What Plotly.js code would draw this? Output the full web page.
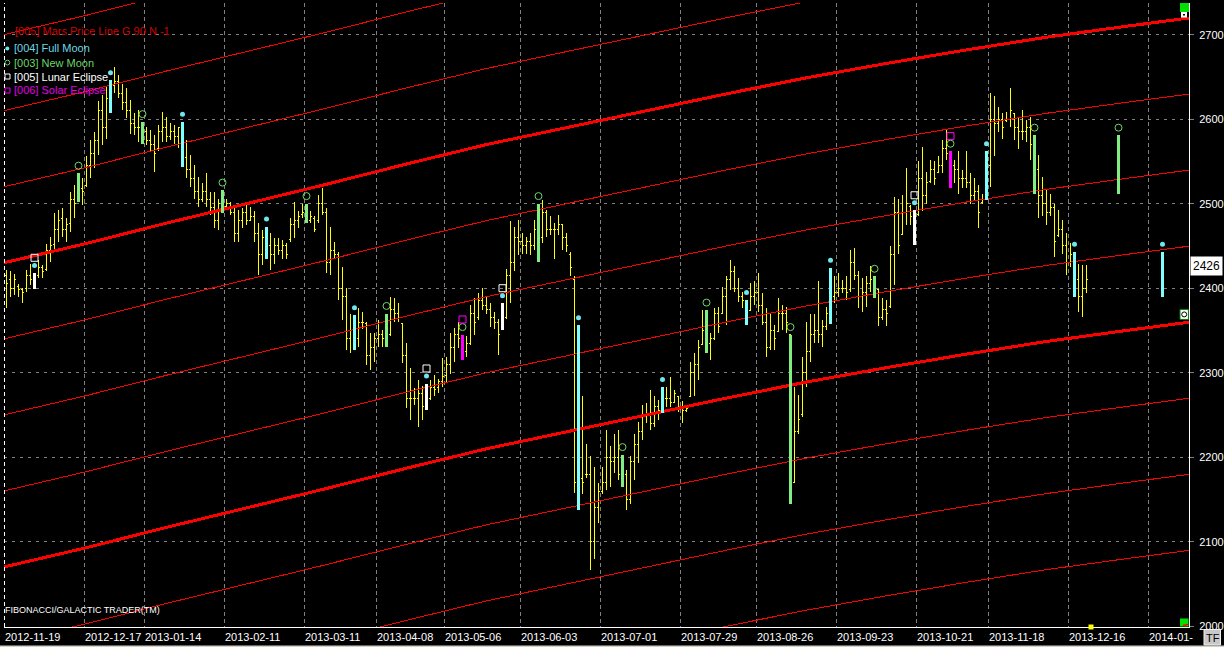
<!DOCTYPE html>
<html><head><meta charset="utf-8">
<script src="https://cdn.plot.ly/plotly-3.0.1.min.js"></script>
<style>html,body{margin:0;padding:0;background:#000;overflow:hidden}#chart{width:1224px;height:647px;}
#chart svg .trace path.js-line, #chart svg .trace.ohlc path, #chart svg g.ohlc path {shape-rendering:crispEdges;}
</style>
</head><body><div id="chart"></div>
<script>
// ---------- DATA ----------
const tickIdx = [0,20,35,55,75,93,110,129,149,169,188,208,228,246,266,286];
const tickLabels = ["2012-11-19","2012-12-17","2013-01-14","2013-02-11","2013-03-11","2013-04-08","2013-05-06","2013-06-03","2013-07-01","2013-07-29","2013-08-26","2013-09-23","2013-10-21","2013-11-18","2013-12-16","2014-01-"];

const openP = [2415,2410,2400,2402,2398,2400,2415,2410,2415,2424,
2422,2445,2452,2470,2482,2470,2476,2505,2505,2518,
2522,2545,2560,2575,2610,2590,2625,2640,2645,2630,
2620,2610,2595,2590,2590,2585,2575,2570,2565,2585,
2590,2580,2585,2580,2590,2555,2540,2530,2515,2505,
2515,2505,2495,2480,2500,2497,2500,2490,2465,2480,
2490,2480,2485,2465,2440,2460,2450,2440,2450,2445,
2450,2458,2475,2480,2487,2490,2480,2482,2480,2500,
2490,2430,2445,2440,2400,2390,2340,2350,2340,2360,
2358,2320,2330,2340,2345,2340,2345,2375,2370,2358,
2320,2270,2270,2270,2275,2262,2270,2282,2282,2290,
2297,2310,2330,2345,2340,2325,2335,2370,2365,2385,
2380,2375,2365,2360,2352,2365,2415,2430,2460,2455,
2450,2455,2450,2470,2460,2490,2470,2470,2470,2475,
2460,2440,2410,2180,2175,2180,2180,2100,2140,2160,
2170,2200,2195,2200,2180,2180,2150,2195,2215,2230,
2250,2250,2240,2260,2255,2270,2270,2265,2272,2260,
2255,2272,2300,2310,2333,2350,2335,2340,2370,2370,
2390,2410,2420,2400,2390,2385,2374,2390,2395,2380,
2360,2330,2350,2349,2370,2370,2345,2170,2230,2250,
2300,2325,2345,2350,2345,2355,2370,2390,2395,2400,
2400,2398,2430,2415,2390,2395,2405,2410,2398,2365,
2375,2378,2440,2490,2463,2490,2497,2485,2487,2530,
2510,2526,2540,2537,2545,2565,2560,2545,2540,2530,
2530,2525,2510,2515,2501,2505,2545,2600,2595,2600,
2598,2600,2607,2590,2585,2585,2590,2570,2540,2510,
2500,2490,2495,2462,2470,2450,2430,2440,2410,2390,
2400];
const highP = [2422,2420,2417,2405,2400,2421,2429,2418,2433,2427,
2452,2461,2489,2493,2495,2483,2514,2522,2536,2530,
2556,2575,2585,2621,2629,2639,2646,2662,2652,2642,
2637,2623,2607,2611,2597,2591,2587,2581,2593,2609,
2603,2595,2593,2591,2597,2575,2558,2546,2532,2524,
2536,2514,2514,2506,2516,2506,2502,2498,2493,2495,
2502,2496,2491,2477,2469,2473,2465,2459,2459,2457,
2453,2483,2502,2491,2500,2500,2491,2485,2510,2518,
2495,2473,2455,2443,2425,2400,2370,2368,2376,2372,
2360,2347,2347,2362,2351,2370,2390,2388,2382,2358,
2335,2305,2282,2291,2284,2287,2291,2297,2293,2317,
2319,2347,2353,2360,2345,2343,2380,2388,2394,2400,
2390,2382,2372,2364,2382,2423,2479,2473,2481,2465,
2461,2465,2481,2500,2504,2493,2485,2477,2487,2475,
2465,2443,2414,2356,2272,2216,2201,2189,2169,2189,
2232,2213,2228,2232,2203,2185,2201,2228,2242,2262,
2264,2280,2272,2268,2283,2283,2295,2280,2272,2266,
2260,2313,2323,2339,2374,2374,2347,2376,2378,2402,
2414,2433,2426,2412,2396,2386,2406,2408,2418,2394,
2376,2370,2357,2388,2380,2378,2345,2283,2274,2319,
2360,2370,2370,2408,2362,2378,2424,2414,2418,2410,
2414,2445,2447,2420,2412,2414,2426,2414,2398,2388,
2386,2450,2508,2506,2510,2542,2498,2492,2550,2567,
2538,2552,2550,2556,2575,2587,2562,2552,2562,2540,
2562,2536,2530,2522,2512,2562,2631,2627,2615,2607,
2609,2637,2607,2603,2611,2599,2603,2581,2558,2532,
2516,2512,2500,2492,2481,2465,2453,2443,2429,2427,
2427];
const lowP = [2377,2390,2392,2390,2382,2396,2404,2399,2412,2412,
2420,2431,2443,2455,2461,2455,2467,2483,2502,2498,
2520,2530,2542,2558,2569,2577,2607,2631,2625,2611,
2601,2583,2581,2573,2571,2569,2562,2538,2562,2573,
2573,2575,2571,2566,2544,2530,2520,2506,2496,2502,
2496,2487,2471,2469,2489,2495,2487,2455,2455,2471,
2475,2479,2455,2416,2427,2435,2422,2429,2439,2435,
2435,2455,2459,2471,2483,2477,2477,2467,2477,2487,
2418,2416,2435,2386,2362,2327,2323,2327,2331,2352,
2309,2303,2313,2331,2331,2331,2343,2360,2360,2311,
2258,2244,2262,2236,2244,2256,2268,2272,2276,2283,
2289,2299,2313,2329,2315,2319,2333,2345,2362,2374,
2370,2354,2352,2321,2351,2364,2382,2420,2439,2441,
2441,2439,2445,2431,2453,2461,2463,2435,2463,2445,
2443,2414,2158,2138,2157,2175,2066,2080,2122,2157,
2161,2165,2181,2173,2165,2138,2145,2173,2193,2220,
2240,2232,2236,2244,2252,2260,2260,2264,2254,2240,
2254,2272,2272,2291,2333,2323,2315,2339,2347,2370,
2357,2398,2396,2384,2376,2357,2374,2380,2372,2357,
2319,2327,2327,2349,2351,2347,2145,2169,2228,2248,
2283,2313,2335,2335,2331,2351,2358,2382,2390,2394,
2386,2396,2410,2376,2372,2378,2396,2388,2355,2362,
2355,2376,2404,2441,2463,2475,2475,2451,2485,2491,
2500,2524,2522,2536,2536,2552,2518,2524,2512,2518,
2518,2500,2504,2471,2500,2504,2520,2556,2585,2577,
2597,2591,2575,2565,2575,2573,2552,2512,2483,2485,
2475,2485,2437,2461,2441,2416,2425,2390,2372,2366,
2394];
const closeP = [2406,2400,2410,2398,2395,2415,2410,2412,2425,2420,
2445,2450,2470,2480,2470,2475,2505,2500,2520,2515,
2545,2560,2575,2610,2590,2625,2640,2645,2630,2620,
2610,2595,2590,2590,2585,2575,2570,2560,2585,2590,
2580,2585,2580,2590,2555,2540,2530,2515,2505,2515,
2505,2495,2480,2500,2495,2500,2490,2465,2480,2490,
2480,2485,2465,2440,2460,2450,2440,2450,2445,2450,
2440,2475,2480,2485,2490,2480,2485,2470,2500,2490,
2430,2445,2440,2400,2390,2340,2350,2340,2360,2360,
2320,2330,2340,2345,2340,2335,2375,2370,2365,2320,
2270,2270,2270,2275,2260,2268,2282,2280,2290,2295,
2310,2330,2345,2340,2325,2335,2370,2360,2385,2380,
2375,2365,2360,2345,2365,2415,2430,2460,2455,2450,
2455,2450,2470,2460,2490,2470,2470,2470,2475,2460,
2450,2425,2170,2175,2170,2180,2100,2140,2160,2170,
2200,2195,2200,2180,2180,2150,2195,2215,2230,2250,
2250,2240,2260,2255,2270,2270,2265,2275,2260,2255,
2258,2300,2310,2330,2350,2335,2340,2370,2355,2390,
2410,2420,2400,2390,2385,2365,2390,2395,2380,2360,
2330,2350,2340,2370,2370,2360,2160,2230,2245,2300,
2325,2345,2350,2345,2355,2370,2390,2395,2400,2400,
2395,2430,2415,2390,2395,2405,2410,2400,2365,2375,
2370,2440,2490,2450,2490,2500,2485,2470,2530,2510,
2525,2540,2530,2545,2565,2560,2545,2540,2530,2530,
2525,2510,2515,2490,2505,2545,2600,2595,2600,2590,
2600,2610,2590,2585,2585,2590,2570,2540,2510,2500,
2490,2495,2455,2470,2450,2430,2440,2410,2390,2400,
2410];

const fullMoonIdx = [26,44,65,87,143,164,185,206,245,267];
const newMoonIdx = [18,34,54,75,95,133,154,175,196,217,257];
const lunarEclipseIdx = [7,105,124,227];
const solarEclipseIdx = [114,236];
// projected moon bars (after the last price bar)
const projIdx = [278, 289];
const projKind = ["new", "full"];
const projHigh = [2581, 2443];
const projLow = [2512, 2390];

// Mars price line (base level)
const marsIdx = [-0.7,20,40,60,80,100,120,140,160,180,200,220,240,260,280,296];
const marsBase = [2070,2093,2117,2140,2163,2187,2210,2230,2250,2270,2289,2306,2322,2337,2350,2360];
const marsStep = 90;
const marsLevels = [-3,-2,-1,0,1,2,3,4,5,6,7];

const lastPrice = 2426;
const sideMarkerPrice = 2369;

// ---------- LAYOUT HELPERS ----------
const FONT = "Liberation Sans, Arial, sans-serif";
const ML = 4, MR = 35, MT = 3, MB = 20, W = 1224, H = 647;
const PW = W - ML - MR, PH = H - MT - MB;
const px = x => (x - ML) / PW;
const py = y => (H - MB - y) / PH;
const X0 = -0.625, X1 = 295.625;

const barIdx = highP.map((_, i) => i);

function segs(idxs, hiArr, loArr) {
  const x = [], y = [];
  idxs.forEach((i, k) => { x.push(i, i, null); y.push(loArr[k], hiArr[k], null); });
  return {x, y};
}
function fromData(idxs) {
  return { hi: idxs.map(i => highP[i]), lo: idxs.map(i => lowP[i]) };
}

const traces = [];
// price bars
traces.push({
  type: 'ohlc', x: barIdx, open: openP, high: highP, low: lowP, close: closeP,
  increasing: {line: {color: '#ffff00', width: 1}},
  decreasing: {line: {color: '#ffff00', width: 1}},
  line: {width: 1}, tickwidth: 0.4, hoverinfo: 'skip', showlegend: false
});
// Mars lines
marsLevels.forEach(k => {
  const thick = (k % 4 === 0);
  traces.push({
    type: 'scatter', mode: 'lines', x: marsIdx, y: marsBase.map(v => v + k * marsStep),
    line: {color: '#ff0000', width: thick ? 3 : 1},
    hoverinfo: 'skip', showlegend: false
  });
});
// moon bars
function moonBars(idxs, color, extraIdx, extraHi, extraLo) {
  const d = fromData(idxs);
  const s = segs(idxs.concat(extraIdx || []), d.hi.concat(extraHi || []), d.lo.concat(extraLo || []));
  traces.push({type: 'scatter', mode: 'lines', x: s.x, y: s.y, line: {color: color, width: 3},
    hoverinfo: 'skip', showlegend: false});
}
const pFull = projIdx.map((v, k) => projKind[k] === 'full' ? k : -1).filter(k => k >= 0);
const pNew = projIdx.map((v, k) => projKind[k] === 'new' ? k : -1).filter(k => k >= 0);
moonBars(fullMoonIdx, '#80ffff', pFull.map(k => projIdx[k]), pFull.map(k => projHigh[k]), pFull.map(k => projLow[k]));
moonBars(newMoonIdx, '#80ee80', pNew.map(k => projIdx[k]), pNew.map(k => projHigh[k]), pNew.map(k => projLow[k]));
moonBars(lunarEclipseIdx, '#ffffff');
moonBars(solarEclipseIdx, '#ff00ff');

// markers
const dotIdx = fullMoonIdx.concat(lunarEclipseIdx);
traces.push({type: 'scatter', mode: 'markers',
  x: dotIdx.concat(pFull.map(k => projIdx[k])),
  y: dotIdx.map(i => highP[i] + 9).concat(pFull.map(k => projHigh[k] + 9)),
  marker: {symbol: 'circle', size: 5, color: '#6fe6ee'}, hoverinfo: 'skip', showlegend: false});
const ringIdx = newMoonIdx.concat(solarEclipseIdx);
traces.push({type: 'scatter', mode: 'markers',
  x: ringIdx.concat(pNew.map(k => projIdx[k])),
  y: ringIdx.map(i => highP[i] + 9).concat(pNew.map(k => projHigh[k] + 9)),
  marker: {symbol: 'circle-open', size: 7, color: '#70d870', line: {width: 1, color: '#70d870'}},
  hoverinfo: 'skip', showlegend: false});
traces.push({type: 'scatter', mode: 'markers', x: lunarEclipseIdx, y: lunarEclipseIdx.map(i => highP[i] + 18),
  marker: {symbol: 'square-open', size: 7, color: '#ffffff', line: {width: 1, color: '#ffffff'}},
  hoverinfo: 'skip', showlegend: false});
traces.push({type: 'scatter', mode: 'markers', x: solarEclipseIdx, y: solarEclipseIdx.map(i => highP[i] + 18),
  marker: {symbol: 'square-open', size: 7, color: '#ff00ff', line: {width: 1, color: '#ff00ff'}},
  hoverinfo: 'skip', showlegend: false});

// ---------- ANNOTATIONS ----------
const ann = [];
tickIdx.forEach((t, k) => ann.push({
  x: t - 0.45, xref: 'x', y: py(636.5), yref: 'paper', xanchor: 'left', yanchor: 'middle',
  xshift: -2, text: tickLabels[k], showarrow: false, font: {family: FONT, size: 11, color: '#ffffff'}
}));
const legendItems = [
  {y: 31, text: '[005] Mars Price Line G 90 N -1', color: '#d00000', x: 13},
  {y: 48.5, text: '[004] Full Moon', color: '#6fd6e4', x: 12},
  {y: 62.5, text: '[003] New Moon', color: '#6ad46a', x: 12},
  {y: 76.5, text: '[005] Lunar Eclipse', color: '#ffffff', x: 12},
  {y: 90.5, text: '[006] Solar Eclipse', color: '#e000e0', x: 12}
];
legendItems.forEach(it => ann.push({
  x: px(it.x), xref: 'paper', y: py(it.y), yref: 'paper', xanchor: 'left', yanchor: 'middle',
  text: it.text, showarrow: false, font: {family: FONT, size: 11, color: it.color}
}));
ann.push({x: px(3), xref: 'paper', y: py(610), yref: 'paper', xanchor: 'left', yanchor: 'middle',
  text: 'FIBONACCI/GALACTIC TRADER(TM)', showarrow: false, font: {family: FONT, size: 9, color: '#ffffff'}});
ann.push({x: 1, xref: 'paper', xshift: 1, y: lastPrice, yref: 'y', xanchor: 'left', yanchor: 'middle',
  text: String(lastPrice), showarrow: false, bgcolor: '#ffffff', borderpad: 2,
  font: {family: FONT, size: 12, color: '#000000'}});
ann.push({x: px(1212.5), xref: 'paper', y: py(637.5), yref: 'paper', xanchor: 'center', yanchor: 'middle',
  text: 'TF', showarrow: false, font: {family: FONT, size: 11, color: '#000000'}});

// ---------- SHAPES ----------
const rectPx = (x0, y0, x1, y1, fill, line, lw) => ({type: 'rect', xref: 'paper', yref: 'paper',
  x0: px(x0), x1: px(x1), y0: py(y1), y1: py(y0), fillcolor: fill, line: {color: line || fill, width: lw === undefined ? 0 : lw}, layer: 'above'});
const shapes = [
  {type: 'line', xref: 'paper', yref: 'paper', x0: px(4.5), x1: px(4.5), y0: 0, y1: py(3), line: {color: '#ffffff', width: 1, dash: '4px,3px'}},
  rectPx(1180, 3, 1189, 12, '#00e000'),
  rectPx(1181, 12, 1187, 17.5, '#ffffff'),
  rectPx(1183, 14, 1185, 15.5, '#000000'),
  rectPx(1180, 618.5, 1188.5, 626.5, '#00e000'),
  {type: 'line', xref: 'paper', yref: 'paper', x0: px(1183), x1: px(1188), y0: py(625.5), y1: py(624.5), line: {color: '#ff0000', width: 1.5}},
  rectPx(1088.5, 624.5, 1093.5, 629.5, '#ffff00'),
  {type: 'rect', xref: 'paper', xsizemode: 'pixel', xanchor: px(1184.2), x0: -4.2, x1: 4.2,
   yref: 'y', ysizemode: 'pixel', yanchor: sideMarkerPrice, y0: -5, y1: 5,
   fillcolor: '#ffffff', line: {color: '#008000', width: 1}, layer: 'above'},
  {type: 'circle', xref: 'paper', xsizemode: 'pixel', xanchor: px(1184.2), x0: -2.5, x1: 2.5,
   yref: 'y', ysizemode: 'pixel', yanchor: sideMarkerPrice, y0: -2.5, y1: 2.5,
   line: {color: '#000000', width: 1}, layer: 'above'},
  rectPx(1204, 629.5, 1220.5, 645, '#c8c8c8', '#f0f0f0', 1),
  rectPx(0, 645.5, 1224, 647, '#d4d0c8'),
  // legend symbols
  {type: 'circle', xref: 'paper', yref: 'paper', x0: px(5.3), x1: px(9.3), y0: py(50.5), y1: py(46.5), fillcolor: '#6fe6ee', line: {width: 0}},
  {type: 'circle', xref: 'paper', yref: 'paper', x0: px(5), x1: px(9.8), y0: py(65), y1: py(60.2), line: {color: '#6ad46a', width: 1}},
  {type: 'rect', xref: 'paper', yref: 'paper', x0: px(5), x1: px(10), y0: py(79), y1: py(74), line: {color: '#ffffff', width: 1}},
  {type: 'rect', xref: 'paper', yref: 'paper', x0: px(5), x1: px(10), y0: py(93), y1: py(88), line: {color: '#e000e0', width: 1}}
];

const layout = {
  width: W, height: H,
  margin: {l: ML, r: MR, t: MT, b: MB, pad: 0},
  paper_bgcolor: '#000000', plot_bgcolor: '#000000',
  showlegend: false,
  xaxis: {
    range: [X0, X1], tickmode: 'array', tickvals: tickIdx.map(t => t - 0.45),
    showticklabels: false, ticks: '', showgrid: true, gridcolor: '#808080', gridwidth: 1,
    griddash: '4px,3px', zeroline: false, showline: true, linecolor: '#ffffff', linewidth: 1,
    rangeslider: {visible: false}, fixedrange: true
  },
  yaxis: {
    side: 'right', range: [1999.1, 2737.5], tickmode: 'array',
    tickvals: [2000,2100,2200,2300,2400,2500,2600,2700],
    ticks: 'outside', ticklen: 4, tickcolor: '#808080', ticklabelstandoff: 3,
    tickfont: {family: FONT, size: 11, color: '#ffffff'},
    showgrid: true, gridcolor: '#808080', gridwidth: 1, griddash: '3px,5px',
    zeroline: false, showline: true, linecolor: '#ffffff', linewidth: 1, fixedrange: true
  },
  annotations: ann,
  shapes: shapes
};

Plotly.newPlot('chart', traces, layout, {staticPlot: true, displayModeBar: false}).then(() => {
  document.querySelectorAll('#chart .trace path').forEach(p => {
    if (!p.classList.contains('point')) p.style.shapeRendering = 'crispEdges';
  });
});
</script>
</body></html>
